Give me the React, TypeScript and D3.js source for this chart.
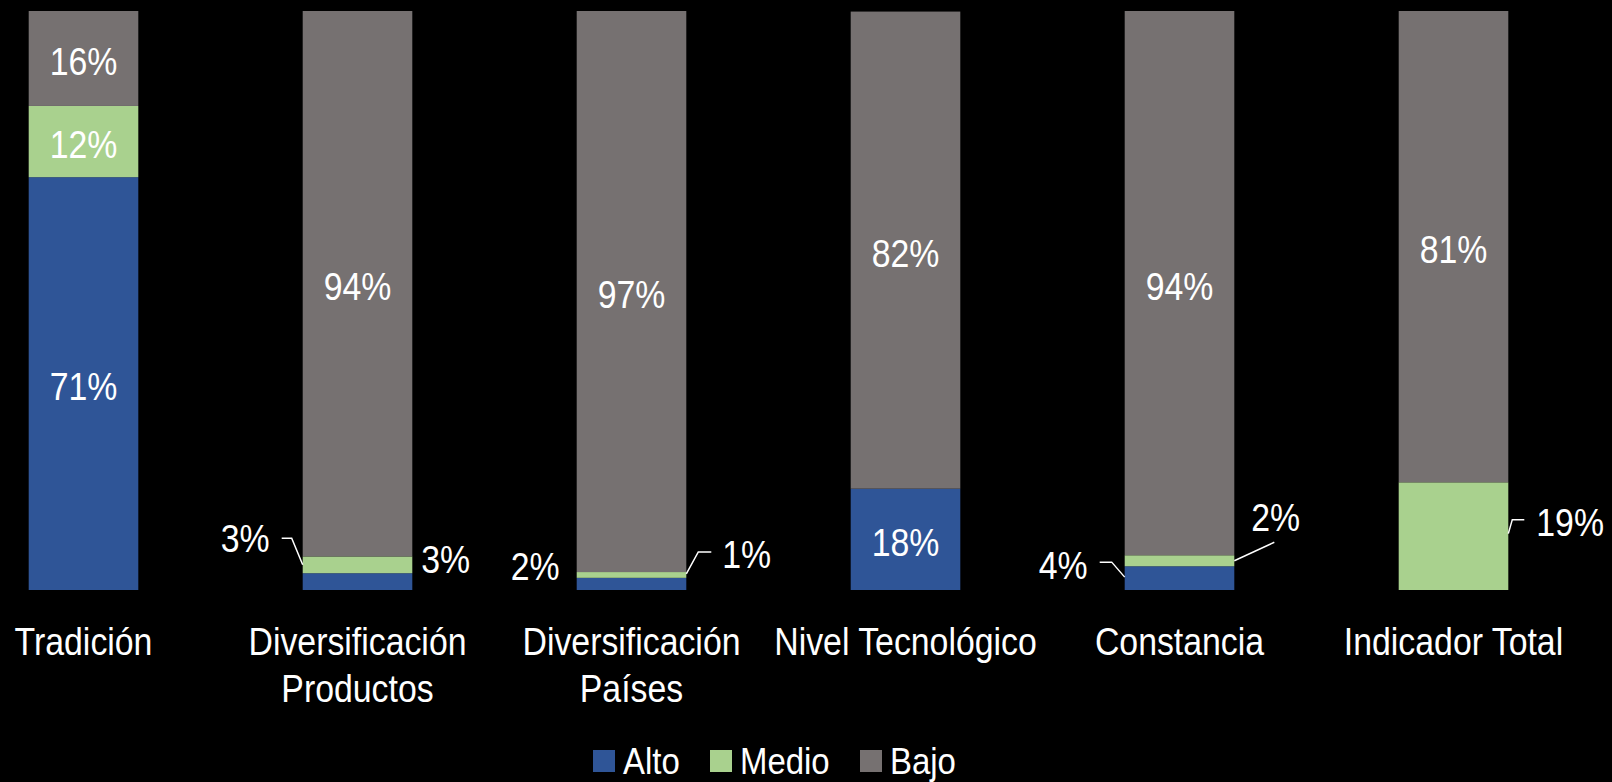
import React from "react";
import * as d3 from "d3";

const categories = [
  ["Tradición"],
  ["Diversificación", "Productos"],
  ["Diversificación", "Países"],
  ["Nivel Tecnológico"],
  ["Constancia"],
  ["Indicador Total"],
];
const seriesNames = ["Alto", "Medio", "Bajo"];
const alto = [71.3, 2.9, 2.1, 17.5, 4.1, 0];
const medio = [12.3, 2.9, 1.0, 0, 1.9, 18.6];
const bajo = [16.4, 94.2, 96.9, 82.4, 94.0, 81.4];
const colors = ["#2F5597", "#A9D18E", "#767171"];

// label placement: outside labels (others centered)
type Outside = { cat: number; s: number; side: "left" | "right"; dx: number; dy: number; leader?: number[][] };
const outsideLabels: Outside[] = [
  { cat: 1, s: 1, side: "left", dx: -33, dy: -27.5, leader: [[-21, -26.5], [-11, -26.5], [0, 0]] },
  { cat: 1, s: 0, side: "right", dx: 9, dy: -23.5 },
  { cat: 2, s: 0, side: "left", dx: -17, dy: -18 },
  { cat: 2, s: 1, side: "right", dx: 36, dy: -21, leader: [[25, -23], [12, -23], [0, -1]] },
  { cat: 4, s: 0, side: "left", dx: -37, dy: -14, leader: [[-25, -16], [-13, -16], [0, -1]] },
  { cat: 4, s: 1, side: "right", dx: 17, dy: -44, leader: [[40, -18.5], [0, 0]] },
  { cat: 5, s: 1, side: "right", dx: 28, dy: -14.5, leader: [[16, -16.5], [4, -16.5], [0, -2.5]] },
];

const W = 1612;
const H = 782;
const FONT = "'Liberation Sans', Arial, sans-serif";
const NARROW = 0.89;

function NText(props: {
  x: number;
  y: number;
  size: number;
  anchor?: "start" | "middle" | "end";
  dy?: string;
  children: React.ReactNode;
}) {
  return (
    <text
      transform={`translate(${props.x},${props.y}) scale(${NARROW},1)`}
      dy={props.dy}
      textAnchor={props.anchor || "start"}
      fill="#fff"
      fontSize={props.size}
    >
      {props.children}
    </text>
  );
}

export default function App() {
  const x = d3
    .scaleBand<number>()
    .domain(d3.range(categories.length))
    .range([-53.5, 1590.5])
    .paddingInner(0.6)
    .paddingOuter(0.3);
  const y = d3.scaleLinear().domain([0, 100]).range([590, 11]);

  const table = categories.map((_, i) => ({ i, Alto: alto[i], Medio: medio[i], Bajo: bajo[i] }));
  const stacked = d3.stack<any>().keys(seriesNames)(table);

  const isOutside = (cat: number, s: number) => outsideLabels.some((o) => o.cat === cat && o.s === s);
  const fmt = (v: number) => `${Math.round(v)}%`;

  const legendItems = seriesNames.map((n, i) => ({ n, i }));
  const legendX = [593, 710, 860];

  return (
    <svg
      width={W}
      height={H}
      style={{ position: "absolute", left: 0, top: 0, background: "#000" }}
      fontFamily={FONT}
    >
      <rect x={0} y={0} width={W} height={H} fill="#000" />
      {stacked.map((layer, s) => (
        <g key={s}>
          {layer.map((d, i) => {
            const h = y(d[0]) - y(d[1]);
            if (h <= 0) return null;
            return (
              <rect
                key={i}
                x={x(i)}
                y={y(d[1])}
                width={x.bandwidth()}
                height={h}
                fill={colors[s]}
              />
            );
          })}
        </g>
      ))}
      {/* centered labels */}
      {stacked.map((layer, s) =>
        layer.map((d, i) => {
          const v = d[1] - d[0];
          if (v <= 0 || isOutside(i, s)) return null;
          return (
            <NText
              key={`c${s}-${i}`}
              x={(x(i) as number) + x.bandwidth() / 2}
              y={(y(d[0]) + y(d[1])) / 2}
              dy="0.44em"
              anchor="middle"
              size={38}
            >
              {fmt(v)}
            </NText>
          );
        })
      )}
      {/* outside labels with leaders */}
      {outsideLabels.map((o, k) => {
        const d = stacked[o.s][o.cat];
        const v = d[1] - d[0];
        const ex = o.side === "left" ? (x(o.cat) as number) : (x(o.cat) as number) + x.bandwidth();
        const ey = (y(d[0]) + y(d[1])) / 2;
        return (
          <g key={`o${k}`}>
            {o.leader && (
              <polyline
                points={o.leader.map((p) => `${ex + p[0]},${ey + p[1]}`).join(" ")}
                fill="none"
                stroke="#fff"
                strokeWidth={1.5}
              />
            )}
            <NText
              x={ex + o.dx}
              y={ey + o.dy}
              dy="0.38em"
              anchor={o.side === "left" ? "end" : "start"}
              size={38}
            >
              {fmt(v)}
            </NText>
          </g>
        );
      })}
      {/* category labels */}
      {categories.map((lines, i) =>
        lines.map((l, j) => (
          <NText
            key={`cat${i}-${j}`}
            x={(x(i) as number) + x.bandwidth() / 2}
            y={655 + j * 47}
            anchor="middle"
            size={38}
          >
            {l}
          </NText>
        ))
      )}
      {/* legend */}
      {legendItems.map(({ n, i }) => (
        <g key={`lg${i}`} transform={`translate(${legendX[i]},0)`}>
          <rect x={0} y={750} width={22} height={22} fill={colors[i]} />
          <NText x={30} y={774} size={37}>
            {n}
          </NText>
        </g>
      ))}
    </svg>
  );
}
